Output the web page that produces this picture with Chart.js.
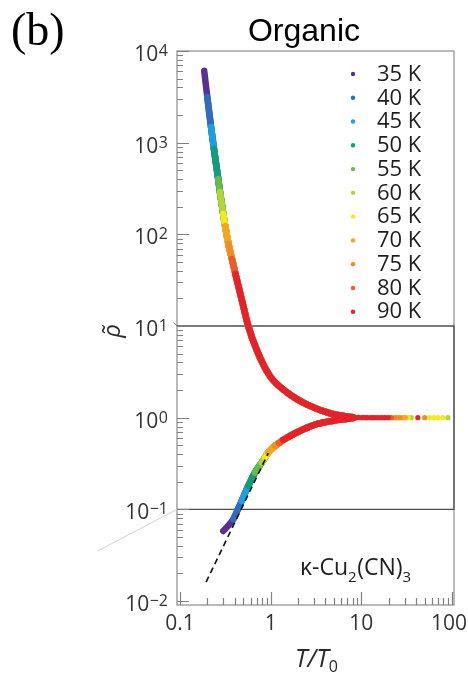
<!DOCTYPE html>
<html>
<head>
<meta charset="utf-8">
<script src="https://cdn.jsdelivr.net/npm/chart.js@4.4.1/dist/chart.umd.min.js"></script>
<style>
  html, body { margin: 0; padding: 0; background: #ffffff; }
  #wrap { position: relative; width: 468px; height: 674px; }
</style>
</head>
<body>
<div id="wrap"><canvas id="chart" width="468" height="674"></canvas></div>
<script>
// Temperatures and their marker colours
const temperatures = ['35 K', '40 K', '45 K', '50 K', '55 K', '60 K', '65 K', '70 K', '75 K', '80 K', '90 K'];
const seriesColors = ['#5a2f93', '#2d6cc3', '#1ba0e1', '#0f9f78', '#66bd45', '#b4d432', '#f5ea17', '#f8a51b', '#f58a20', '#ee5a29', '#e6212b'];

// Insulating (upper) branch of the scaled resistivity, T/T0 vs rho~
const upperX   = [0.185, 0.200, 0.220, 0.237, 0.264, 0.276, 0.300, 0.315, 0.343, 0.374, 0.409, 0.499, 0.566, 0.706, 0.98, 1.5, 2.6, 4.9, 8.1];
const upperRho = [6070, 3155, 1483, 853, 401, 290, 167, 123, 78, 54, 37, 16.5, 10, 5.4, 2.85, 1.9, 1.37, 1.09, 1.01];
// index along the upper branch where each temperature's data begins
const upperStart = [0, 1, 2, 3, 4, 5, 6, 7, 8, 9, 10];

// Metallic (lower) branch
const lowerX   = [0.300, 0.387, 0.479, 0.566, 0.671, 0.796, 0.87, 0.942, 1.115, 1.24, 1.377, 1.94, 3.21, 5.34, 8.1];
const lowerRho = [0.0581, 0.078, 0.1235, 0.18, 0.252, 0.324, 0.37, 0.417, 0.492, 0.53, 0.573, 0.69, 0.85, 0.94, 0.99];
const lowerStart = [0, 1, 2, 3, 4, 5, 6, 7, 8, 9, 10];

// Scattered high-T/T0 points where both branches merge at rho~ = 1
const tailX = [
  [], [], [], [], [],
  [35.5, 90],
  [33, 57, 63, 70, 79],
  [16, 24.8, 28.5, 30.5],
  [10.5, 14.5, 20.5, 23.5, 26.5, 50],
  [9.0, 11.3, 13.3, 17.4, 21.5],
  [8.6, 9.3, 10.1, 10.9, 11.8, 12.8, 13.9, 15.2, 16.6, 18.3, 19.8, 42]
];
const tailRho = [
  [], [], [], [], [],
  [1.0, 1.0],
  [1.0, 1.0, 1.0, 1.0, 1.0],
  [1.0, 1.0, 1.0, 1.0],
  [1.01, 1.0, 1.0, 1.0, 1.0, 1.0],
  [1.0, 1.0, 1.0, 1.0, 1.0],
  [1.0, 1.01, 1.0, 1.0, 1.0, 1.0, 1.0, 1.0, 1.0, 1.0, 1.0, 1.0]
];

// Fermi-liquid T^2 guide
const fermiX   = [0.194, 0.94];
const fermiRho = [0.0161, 0.41];

// Axis ticks
const xTicks = [0.1, 1, 10, 100];
const xTickLabels = ['0.1', '1', '10', '100'];
const yTicks = [1e-2, 1e-1, 1e0, 1e1, 1e2, 1e3, 1e4];
const yTickExponents = ['\u22122', '\u22121', '0', '1', '2', '3', '4'];
// rho~ levels bounding the framed middle band
const bandRho = [10, 0.1];

const FONT = '"Open Sans", "DejaVu Sans", sans-serif';

const datasets = [];
temperatures.forEach((label, i) => {
  const rank = temperatures.length - i; // higher temperatures sit on top
  const up = upperX.slice(upperStart[i]).map((v, j) => ({ x: v, y: upperRho[upperStart[i] + j] }));
  const lo = lowerX.slice(lowerStart[i]).map((v, j) => ({ x: v, y: lowerRho[lowerStart[i] + j] }));
  const lineStyle = {
    showLine: true, borderColor: seriesColors[i], backgroundColor: seriesColors[i],
    borderWidth: 6.5, pointRadius: 0, pointHoverRadius: 0,
    borderCapStyle: 'round', borderJoinStyle: 'round',
    cubicInterpolationMode: 'monotone', order: rank + 20
  };
  datasets.push(Object.assign({ label: label, data: up }, lineStyle));
  datasets.push(Object.assign({ label: label, data: lo }, lineStyle));
  datasets.push({
    label: label,
    data: tailX[i].map((v, j) => ({ x: v, y: tailRho[i][j] })),
    showLine: false, pointRadius: 2.6, pointBorderWidth: 0,
    pointBackgroundColor: seriesColors[i], backgroundColor: seriesColors[i], order: rank
  });
});
datasets.push({
  label: 'T2',
  data: fermiX.map((v, j) => ({ x: v, y: fermiRho[j] })),
  showLine: true, borderColor: '#111111', borderWidth: 1.6, borderDash: [6, 4],
  pointRadius: 0, order: -5
});

function drawSup(ctx, base, sup, xRight, baseline, baseSize, supSize) {
  ctx.font = baseSize + 'px ' + FONT;
  const wb = ctx.measureText(base).width;
  ctx.font = supSize + 'px ' + FONT;
  const ws = ctx.measureText(sup).width;
  const x0 = xRight - ws - wb - 0.5;
  ctx.textAlign = 'left';
  ctx.textBaseline = 'alphabetic';
  ctx.font = baseSize + 'px ' + FONT;
  ctx.fillText(base, x0, baseline);
  ctx.font = supSize + 'px ' + FONT;
  ctx.fillText(sup, x0 + wb + 0.5, baseline - 5);
}

const decorations = {
  id: 'decorations',
  beforeDatasetsDraw(chart) {
    const { ctx, chartArea: a, scales: { x, y } } = chart;
    ctx.save();
    // outer frame
    ctx.strokeStyle = '#8c8c8c';
    ctx.lineWidth = 1.2;
    ctx.strokeRect(a.left, a.top, a.right - a.left, a.bottom - a.top);
    // framed band between 10^1 and 10^-1
    const yHi = y.getPixelForValue(bandRho[0]);
    const yLo = y.getPixelForValue(bandRho[1]);
    ctx.strokeStyle = '#4f4f4f';
    ctx.lineWidth = 1.3;
    ctx.beginPath();
    ctx.moveTo(a.left, yHi); ctx.lineTo(a.right, yHi);
    ctx.lineTo(a.right, yLo); ctx.lineTo(a.left, yLo);
    ctx.stroke();
    // connector strokes leading into the band corners
    ctx.strokeStyle = '#d2d2d2';
    ctx.lineWidth = 1;
    ctx.beginPath();
    ctx.moveTo(x.getPixelForValue(0.0122), y.getPixelForValue(0.0349));
    ctx.lineTo(a.left, yLo);
    ctx.stroke();
    ctx.strokeStyle = '#777777';
    ctx.beginPath();
    ctx.moveTo(x.getPixelForValue(0.0848), y.getPixelForValue(10.9));
    ctx.lineTo(a.left, yHi);
    ctx.stroke();
    ctx.restore();
  },
  afterDatasetsDraw(chart) {
    const { ctx, chartArea: a, scales: { x, y } } = chart;
    ctx.save();
    // inward ticks
    ctx.strokeStyle = '#808080';
    ctx.lineWidth = 1.2;
    ctx.beginPath();
    for (let e = -3; e <= 4; e++) {
      for (let k = 1; k <= 9; k++) {
        const v = k * Math.pow(10, e);
        if (v < y.min * 0.999 || v > y.max * 1.001) continue;
        const py = Math.round(y.getPixelForValue(v)) + 0.5;
        const len = k === 1 ? 12 : 6;
        ctx.moveTo(a.left, py); ctx.lineTo(a.left + len, py);
      }
    }
    for (let e = -2; e <= 3; e++) {
      for (let k = 1; k <= 9; k++) {
        const v = k * Math.pow(10, e);
        if (v < x.min * 0.999 || v > x.max * 1.001) continue;
        const px = Math.round(x.getPixelForValue(v)) + 0.5;
        const len = k === 1 ? 13 : 7;
        ctx.moveTo(px, a.bottom); ctx.lineTo(px, a.bottom - len);
      }
    }
    ctx.stroke();

    // y tick labels
    ctx.fillStyle = '#333333';
    yTicks.forEach((v, i) => {
      const py = y.getPixelForValue(v);
      drawSup(ctx, '10', yTickExponents[i], a.left - 9, py + 10, 21, 16);
    });
    // x tick labels
    ctx.font = '21px ' + FONT;
    ctx.textBaseline = 'alphabetic';
    ctx.textAlign = 'left';
    xTicks.forEach((v, i) => {
      const w = ctx.measureText(xTickLabels[i]).width;
      let left = x.getPixelForValue(v) - w / 2;
      if (left + w > chart.width - 1) left = chart.width - 1 - w;
      ctx.fillText(xTickLabels[i], left, a.bottom + 25);
    });

    // x axis title T/T0
    ctx.fillStyle = '#2a2a2a';
    ctx.font = 'italic 25px ' + FONT;
    const wMain = ctx.measureText('T/T').width;
    ctx.font = '16px ' + FONT;
    const wSub = ctx.measureText('0').width;
    const tx = (a.left + a.right) / 2 + 1 - (wMain + wSub) / 2;
    ctx.font = 'italic 25px ' + FONT;
    ctx.fillText('T/T', tx, 667);
    ctx.font = '16px ' + FONT;
    ctx.fillText('0', tx + wMain, 672);

    // y axis title rho~
    ctx.save();
    ctx.translate(113, 331);
    ctx.rotate(-Math.PI / 2);
    ctx.font = 'italic 24px ' + FONT;
    ctx.textAlign = 'center';
    ctx.textBaseline = 'middle';
    ctx.fillText('\u03C1\u0303', 0, 0);
    ctx.restore();

    // legend
    const lx = a.right - 101, tx0 = a.right - 77;
    temperatures.forEach((label, i) => {
      const ly = a.top + 23 + i * 23.77;
      ctx.fillStyle = seriesColors[i];
      ctx.beginPath();
      ctx.arc(lx, ly, 2.2, 0, Math.PI * 2);
      ctx.fill();
      ctx.fillStyle = '#1e1e1e';
      ctx.font = '22px ' + FONT;
      ctx.textAlign = 'left';
      ctx.textBaseline = 'middle';
      ctx.fillText(label, tx0, ly + 0.5);
    });

    // compound label
    ctx.fillStyle = '#1e1e1e';
    ctx.textAlign = 'left';
    ctx.textBaseline = 'alphabetic';
    let cx = 300;
    const parts = [['\u03BA-Cu', 0], ['2', 1], ['(CN)', 0], ['3', 1]];
    parts.forEach(([t, sub]) => {
      ctx.font = (sub ? '15px ' : '23px ') + FONT;
      ctx.fillText(t, cx, sub ? 582 : 575);
      cx += ctx.measureText(t).width + (sub ? 0.5 : 0);
    });

    // panel title and tag
    ctx.fillStyle = '#000000';
    ctx.font = '32px "Liberation Sans", Arial, sans-serif';
    ctx.textAlign = 'center';
    ctx.fillText('Organic', 304, 41);
    ctx.font = '46px "Liberation Serif", "Times New Roman", serif';
    ctx.textAlign = 'left';
    ctx.fillText('(b)', 11, 45);
    ctx.restore();
  }
};

new Chart(document.getElementById('chart'), {
  type: 'scatter',
  data: { datasets: datasets },
  options: {
    responsive: false,
    animation: false,
    layout: { padding: { left: 177, right: 14, top: 51, bottom: 69 } },
    plugins: { legend: { display: false }, tooltip: { enabled: false }, title: { display: false } },
    scales: {
      x: { type: 'logarithmic', display: false, min: 0.0927, max: 105.2 },
      y: { type: 'logarithmic', display: false, min: 0.00905, max: 10000 }
    }
  },
  plugins: [decorations]
});
</script>
</body>
</html>
